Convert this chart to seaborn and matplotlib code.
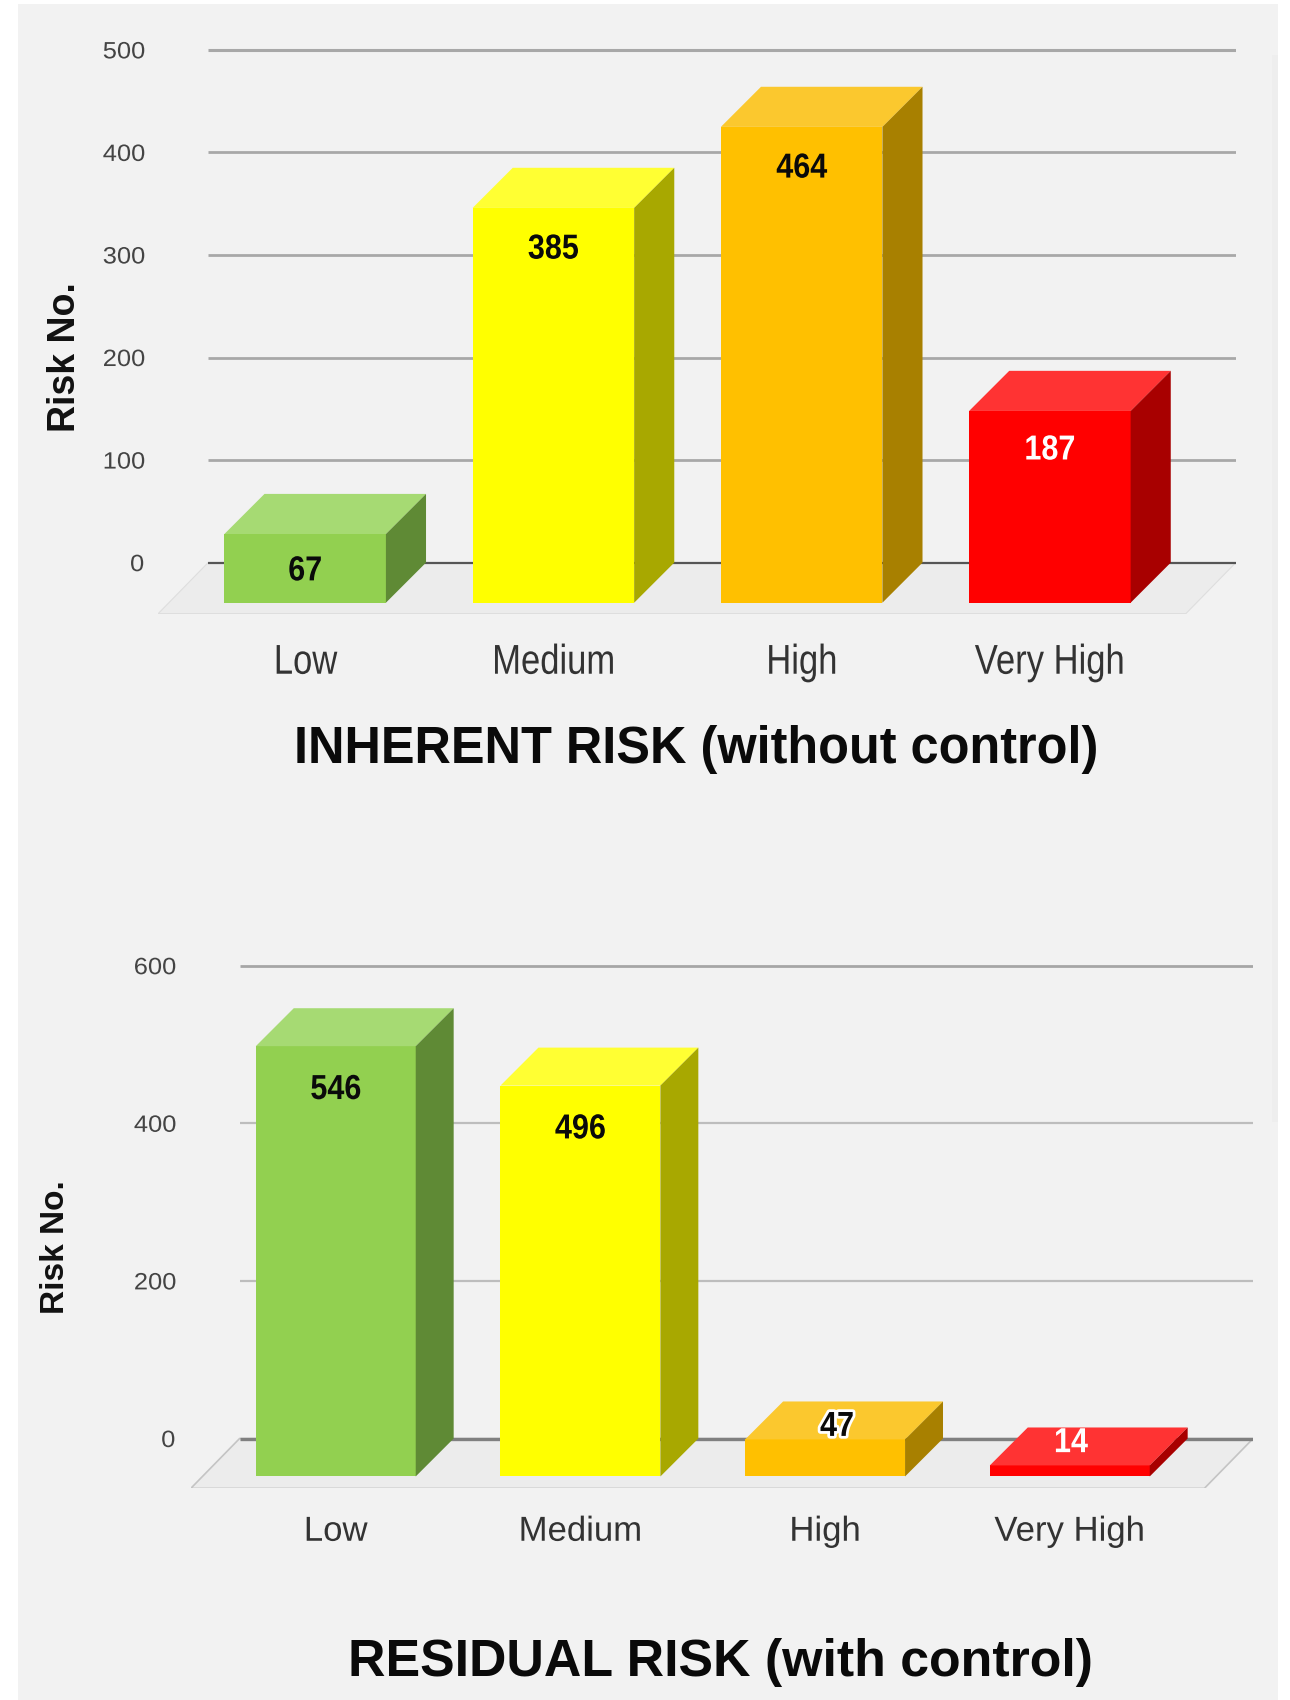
import matplotlib
matplotlib.use("Agg")
import matplotlib.pyplot as plt
import matplotlib.patheffects as pe
from matplotlib.patches import Rectangle
from matplotlib.transforms import Affine2D
import seaborn as sns

# ---- data ----
categories = ["Low", "Medium", "High", "Very High"]
inherent_values = [67, 385, 464, 187]
residual_values = [546, 496, 47, 14]
inherent_ticks = [0, 100, 200, 300, 400, 500]
residual_ticks = [0, 200, 400, 600]
inherent_title = "INHERENT RISK (without control)"
residual_title = "RESIDUAL RISK (with control)"
y_title = "Risk No."

# ---- colours of the three visible faces of each block ----
front_colors = ["#92d050", "#ffff00", "#ffc000", "#ff0000"]
top_colors = ["#a6da73", "#ffff33", "#fbc82e", "#ff3333"]
side_colors = ["#5f8a35", "#a8a800", "#a88000", "#a80000"]

sns.set_theme(style="white")
plt.rcParams["font.family"] = ["Liberation Sans", "DejaVu Sans"]

W, H = 1290, 1700
U = W / 1190  # layout below is expressed in units of 1/1190 of the width


class Stretch(pe.AbstractPathEffect):
    """Scale glyphs horizontally about the middle of the string."""

    def __init__(self, factor, halo=0):
        super().__init__()
        self.factor = factor
        self.halo = halo

    def draw_path(self, renderer, gc, tpath, affine, rgbFace=None):
        ext = tpath.get_extents()
        mid = (ext.x0 + ext.x1) / 2
        local = Affine2D().translate(-mid, 0).scale(self.factor, 1).translate(mid, 0)
        if self.halo:
            # white outline under the glyphs
            outline = renderer.new_gc()
            outline.copy_properties(gc)
            outline.set_linewidth(self.halo)
            outline.set_foreground((1, 1, 1, 1))
            renderer.draw_path(outline, tpath, local + affine, (1, 1, 1, 1))
            outline.restore()
        renderer.draw_path(gc, tpath, local + affine, rgbFace)


def to_fig(x, y):
    return x * U / W, 1 - y * U / H


fig = plt.figure(figsize=(W / 100, H / 100), dpi=100, facecolor="white")
fig.patches.append(Rectangle((18 / W, 0), (1278 - 18) / W, 1 - 4 / H,
                             transform=fig.transFigure, fc="#f2f2f2", ec="none", zorder=-5))
fig.patches.append(Rectangle((1272 / W, 1 - 1122 / H), 6 / W, (1122 - 55) / H,
                             transform=fig.transFigure, fc="#eeeeee", ec="none", zorder=-4))


def draw_panel(values, ticks, title, box, step, bar_left, bar_px, base_y, px_per_unit, depth,
               floor_depth, style, offsets):
    left, right, top, bottom = box
    x0, y1 = to_fig(left, bottom)
    x1, y0 = to_fig(right, top)
    ax = fig.add_axes([x0, y1, x1 - x0, y0 - y1], facecolor="none")

    sns.barplot(x=categories, y=values, hue=categories, palette=front_colors, width=bar_px / step,
                saturation=1, legend=False, dodge=False, linewidth=0, ax=ax)
    bars = list(ax.patches)

    first_center = bar_left + bar_px / 2
    ax.set_xlim((left - first_center) / step, (right - first_center) / step)
    ax.set_ylim((base_y - bottom) / px_per_unit, (base_y - top) / px_per_unit)

    dx, dy = depth / step, depth / px_per_unit
    fdx = floor_depth / step
    xl, xr = ax.get_xlim()
    yb, _ = ax.get_ylim()

    # floor of the chart, then the wall grid lines behind the blocks
    ax.fill([xl, xl + fdx, xr, xr - fdx], [yb, dy, dy, yb], fc="#ececec",
            ec=style["floor_edge"], lw=style["floor_lw"], zorder=0.5, joinstyle="miter")
    for t in ticks:
        if t == 0:
            color, lw = style["zero"]
        elif t == ticks[-1]:
            color, lw = style["top"]
        else:
            color, lw = style["grid"]
        ax.hlines(t + dy, xl + fdx, xr, colors=color, lw=lw, zorder=1)

    # extrude every bar into a block
    for bar, top_c, side_c in zip(bars, top_colors, side_colors):
        bx, bw, bh = bar.get_x(), bar.get_width(), bar.get_height()
        bar.set_zorder(3)
        ax.fill([bx, bx + dx, bx + bw + dx, bx + bw], [bh, bh + dy, bh + dy, bh],
                fc=top_c, ec="none", zorder=3)
        ax.fill([bx + bw, bx + bw + dx, bx + bw + dx, bx + bw], [0, dy, bh + dy, bh],
                fc=side_c, ec="none", zorder=3)

    # value labels, squeezed to a condensed look
    for i, (bar, v) in enumerate(zip(bars, values)):
        off_x, off_y, col, outline = offsets[i]
        txt = ax.annotate(str(v), (bar.get_x() + bar.get_width() / 2, v),
                          xytext=(off_x * U * 0.72, off_y * U * 0.72), textcoords="offset points",
                          ha="center", va="center", fontsize=25, fontweight="bold",
                          color=col, zorder=5, annotation_clip=False)
        txt.set_path_effects([Stretch(0.88, halo=4 if outline else 0)])

    # axis text
    ax.set_xticks(range(len(categories)), categories)
    ax.set_yticks([t + dy for t in ticks], [str(t) for t in ticks])
    ax.tick_params(axis="both", length=0)
    ax.tick_params(axis="y", pad=style["ypad"], labelsize=17, labelcolor="#444444")
    ax.tick_params(axis="x", pad=style["xpad"], labelsize=style["xsize"], labelcolor="#333333")
    for lab in ax.get_xticklabels():
        lab.set_path_effects([Stretch(style["xstretch"])])
    for lab in ax.get_yticklabels():
        lab.set_path_effects([Stretch(1.08)])
    for s in ax.spines.values():
        s.set_visible(False)
    ax.grid(False)

    ax.set_ylabel(y_title, fontsize=style["ylab_size"], fontweight="bold", color="#111111", va="center")
    ax.yaxis.set_label_coords(*to_fig(*style["ylab_at"]), transform=fig.transFigure)
    ax.set_xlabel(title, fontsize=style["title_size"], fontweight="bold", color="#0a0a0a", va="center")
    ax.xaxis.set_label_coords(*to_fig(*style["title_at"]), transform=fig.transFigure)
    return ax


draw_panel(
    inherent_values, inherent_ticks, inherent_title,
    box=(146, 1140, 40, 566), step=229, bar_left=207, bar_px=149, base_y=556, px_per_unit=0.946,
    depth=37, floor_depth=46,
    style=dict(zero=("#555555", 1.6), top=("#a8a8a8", 2.2), grid=("#a8a8a8", 2.0),
               floor_edge="#dedede", floor_lw=0.8, ypad=10.5, xpad=21, xsize=30, xstretch=0.83,
               ylab_size=27, ylab_at=(60, 329), title_size=36.4, title_at=(642, 691)),
    offsets=[(0, -34, "#0a0a0a", False), (0, -38, "#0a0a0a", False),
             (0, -38, "#0a0a0a", False), (0, -36, "white", False)],
)

draw_panel(
    residual_values, residual_ticks, residual_title,
    box=(176, 1156, 880, 1373), step=225.7, bar_left=236, bar_px=147.5, base_y=1362, px_per_unit=0.727,
    depth=35, floor_depth=45,
    style=dict(zero=("#808080", 2.4), top=("#a6a6a6", 2.0), grid=("#bdbdbd", 1.6),
               floor_edge="#c4c4c4", floor_lw=1.2, ypad=11.5, xpad=19, xsize=25, xstretch=1.0,
               ylab_size=24, ylab_at=(51, 1150), title_size=37.4, title_at=(665, 1534)),
    offsets=[(0, -40, "#0a0a0a", False), (0, -40, "#0a0a0a", False),
             (11, 12, "#0a0a0a", True), (1, 21, "white", False)],
)

fig.savefig("out.png", dpi=100, facecolor=fig.get_facecolor())
